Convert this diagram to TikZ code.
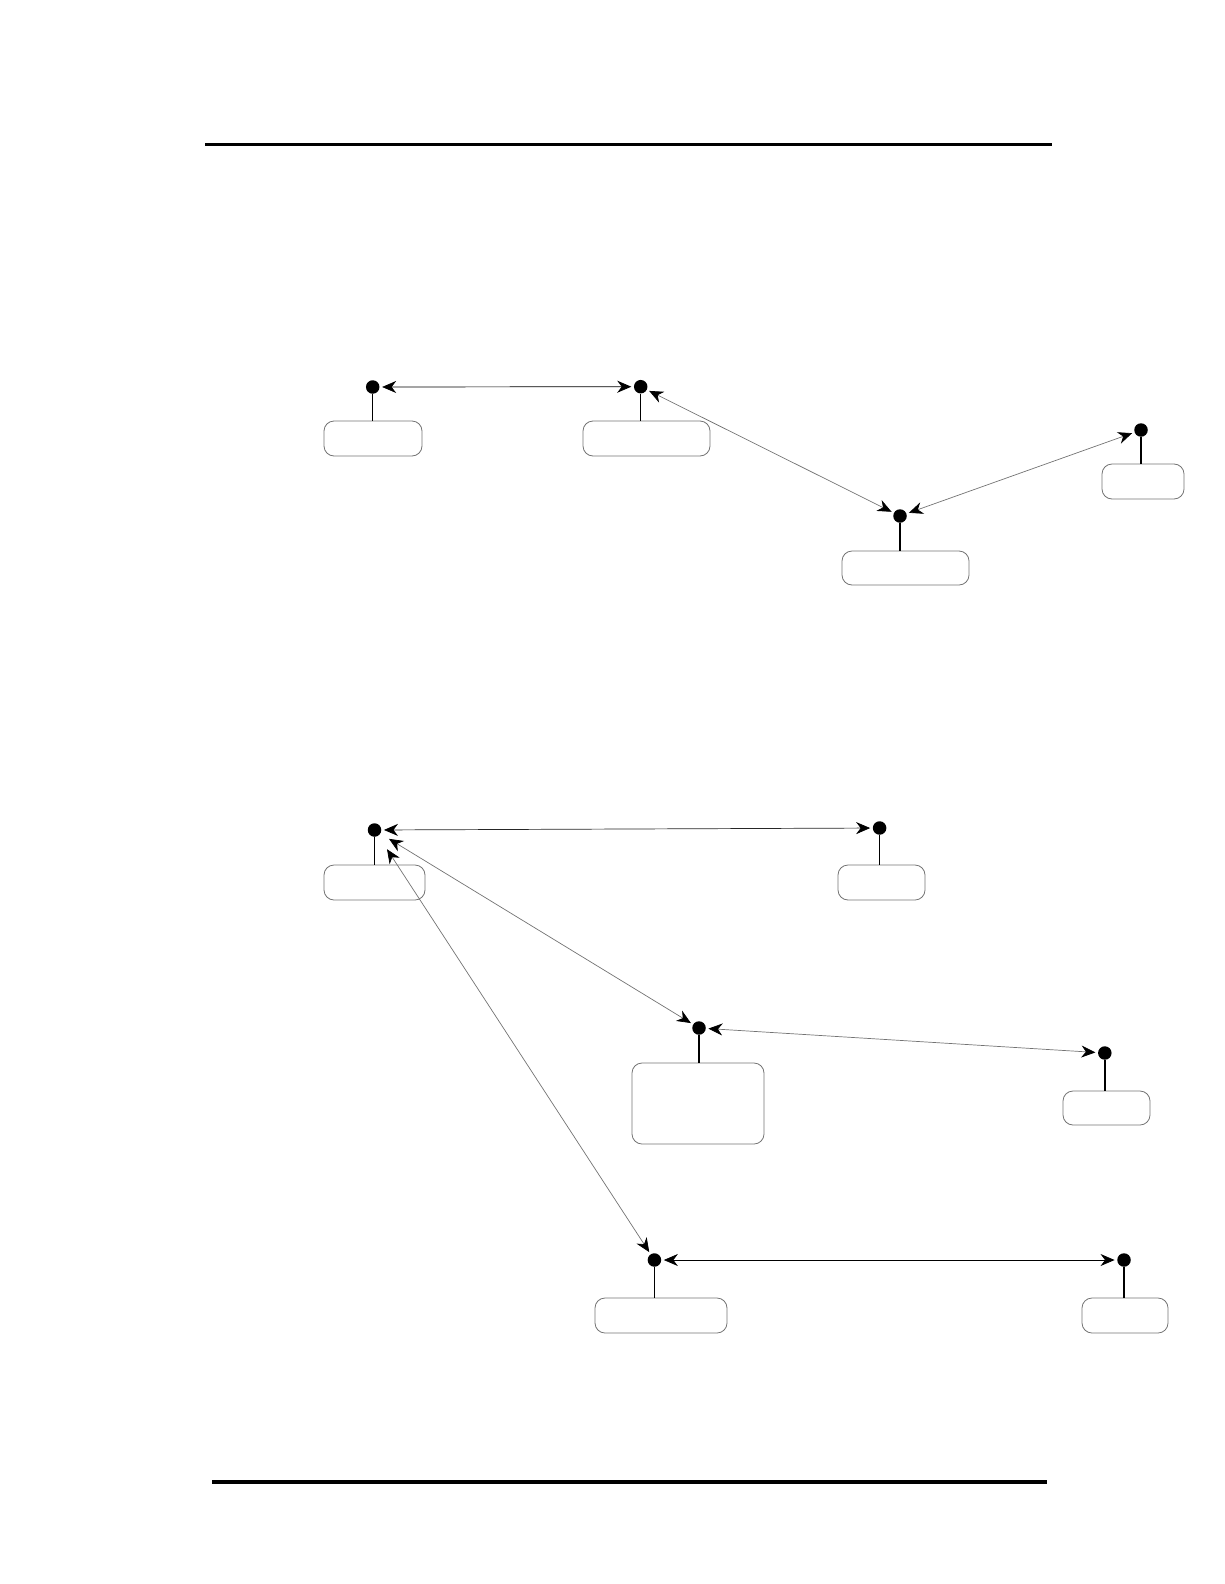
\documentclass[tikz,border=0pt]{standalone}
\usetikzlibrary{arrows.meta}
\begin{document}
\begin{tikzpicture}[x=1pt,y=-1pt,
  dot/.style={circle,fill=black,inner sep=0pt,minimum size=13.5pt},
  box/.style={draw=black!55,line width=0.8pt,rounded corners=10pt,inner sep=0pt},
  stem/.style={line width=1.4pt},
  tip/.style={Stealth[length=14pt,width=12pt,inset=4.5pt,color=black]},
  link/.style={line width=0.7pt,{Stealth[length=14pt,width=12pt,inset=4.5pt,color=black]}-{Stealth[length=14pt,width=12pt,inset=4.5pt,color=black]},shorten <=2.5pt,shorten >=2.5pt},
  rule/.style={line width=3.2pt}]
\useasboundingbox (0,0) rectangle (1224,1584);
% rules
\coordinate (r1a) at (205,144.5); \coordinate (r1b) at (1052,144.5);
\coordinate (r2a) at (212,1482); \coordinate (r2b) at (1047,1482);
\draw[rule] (r1a) -- (r1b);
\draw[rule] (r2a) -- (r2b);
% upper diagram
\node[dot] (d1) at (372.7,387) {};
\node[dot] (d2) at (640.7,386.7) {};
\node[dot] (d3) at (900,516) {};
\node[dot] (d4) at (1141,430) {};
\node[box,minimum width=98pt,minimum height=35pt] (b1) at (373,438.5) {};
\node[box,minimum width=127pt,minimum height=35pt] (b2) at (646.5,438.5) {};
\node[box,minimum width=127pt,minimum height=34pt] (b3) at (905.5,568) {};
\node[box,minimum width=82pt,minimum height=35pt] (b4) at (1143,481.5) {};
\foreach \i in {1,2,3,4} \draw[stem] (d\i) -- (d\i |- b\i.north);
\draw[link,black] (d1) -- (d2);
\draw[link,black!55] (d2) -- (d3);
\draw[link,black!55] (d3) -- (d4);
% lower diagram
\node[dot] (d5) at (374.5,830) {};
\node[dot] (d6) at (879.6,828) {};
\node[dot] (d7) at (699,1028) {};
\node[dot] (d8) at (1104.8,1053) {};
\node[dot] (d9) at (654.4,1260) {};
\node[dot] (d10) at (1124,1260) {};
\node[box,minimum width=101pt,minimum height=35pt] (b5) at (374.5,882.5) {};
\node[box,minimum width=87pt,minimum height=35pt] (b6) at (881.5,882.5) {};
\node[box,minimum width=132pt,minimum height=81pt] (b7) at (698,1103.5) {};
\node[box,minimum width=87pt,minimum height=34pt] (b8) at (1106.5,1108) {};
\node[box,minimum width=132pt,minimum height=35pt] (b9) at (661,1315.5) {};
\node[box,minimum width=86pt,minimum height=35pt] (b10) at (1125,1315.5) {};
\foreach \i in {5,6,7,8,9,10} \draw[stem] (d\i) -- (d\i |- b\i.north);
\draw[link,black!85] (d5) -- (d6);
\draw[link,black!55,shorten <=10pt] (d5) -- (d7);
\draw[link,black!55,shorten <=16pt] (d5) -- (d9);
\draw[link,black!55] (d7) -- (d8);
\draw[link,black] (d9) -- (d10);
\end{tikzpicture}
\end{document}
